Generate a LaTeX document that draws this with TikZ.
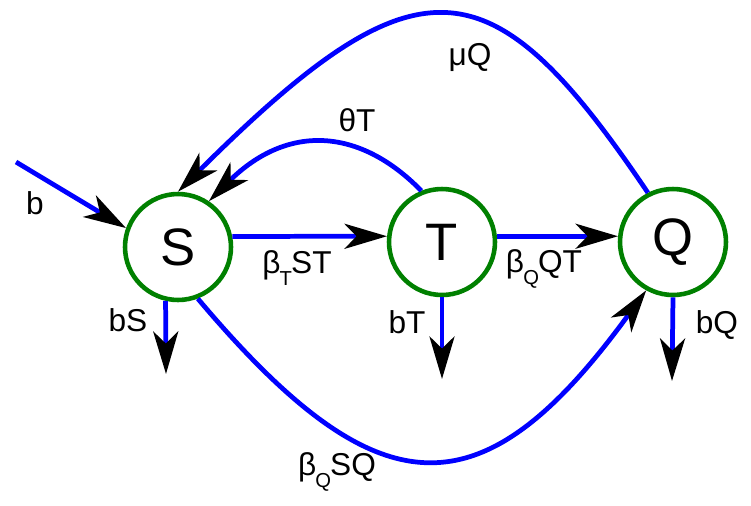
\documentclass[tikz,border=0pt]{standalone}
\usepackage{fontspec}
\setmainfont{Liberation Sans}
\usetikzlibrary{arrows.meta}
\tikzset{
  >={Stealth[length=0.85cm, width=0.5cm, inset=0.24cm, color=black]},
  compartment/.style={circle, draw=green!50!black, line width=2.6pt,
    minimum size=2.12cm, inner sep=0pt, font=\fontsize{30}{30}\selectfont},
  flow/.style={->, draw=blue, line width=2.7pt},
  rate/.style={font=\fontsize{18}{18}\selectfont, inner sep=1pt},
}
\newcommand{\lowsub}[1]{\kern-0.5pt\raisebox{-7pt}{\fontsize{11.5}{11.5}\selectfont #1}\kern-0.5pt}

\begin{document}
\begin{tikzpicture}[x=0.02cm, y=-0.02cm]
      \useasboundingbox (0,0) rectangle (751,505);
      \node[compartment] (S) at (178,247) {S};
      \node[compartment] (T) at (442,242) {T};
      \node[compartment] (Q) at (673,242) {Q};
      \coordinate (inflow) at (16,162);
      \coordinate (Sout) at (166,374);
      \coordinate (Tout) at (442,379);
      \coordinate (Qout) at (672,381);
      % flows in and out
      \draw[flow] (inflow) -- (S.160);
      \draw[flow] (S.257) -- (Sout);
      \draw[flow] (T.270) -- (Tout);
      \draw[flow] (Q.270) -- (Qout);
      % transitions
      \draw[flow] (S.11) -- (T.174);
      \draw[flow] (T.6) -- (Q.174);
      \draw[flow] (T.112) .. controls (360,128) and (288,123) .. (S.56);
      \draw[flow] (Q.117) .. controls (491,-40) and (419,-48) .. (S.90);
      \draw[flow] (S.291) .. controls (380,515) and (483,515) .. (Q.241);
      % rates
      \node[rate] (lb) at (35,203) {b};
      \node[rate] (lbS) at (128,320) {bS};
      \node[rate] (lbT) at (407,322) {bT};
      \node[rate] (lbQ) at (717,325) {bQ};
      \node[rate, anchor=base] (lST) at (297,273) {β\lowsub{T}ST};
      \node[rate, anchor=base] (lQT) at (544,272) {β\lowsub{Q}QT};
      \node[rate, anchor=base] (lSQ) at (337,475) {β\lowsub{Q}SQ};
      \node[rate] (lthT) at (357,120) {θT};
      \node[rate] (lmuQ) at (470,57) {μQ};
    \end{tikzpicture}
\end{document}
